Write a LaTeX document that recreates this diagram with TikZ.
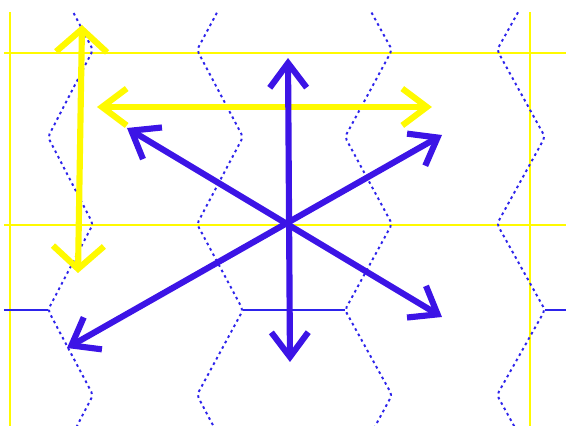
\documentclass[tikz,border=0pt]{standalone}
\usepackage{xcolor}
\usepackage{tikz}
\usetikzlibrary{arrows.meta}
\definecolor{guideyellow}{RGB}{255,250,0}
\definecolor{cellblue}{RGB}{45,35,235}
\definecolor{axisblue}{RGB}{60,20,230}
\tikzset{
  guide/.style={draw=guideyellow, line width=1.3pt},
  cellwall/.style={draw=cellblue, line width=1.1pt, dash pattern=on 1.5pt off 2pt, rounded corners=2pt},
  celledge/.style={draw=cellblue, line width=1pt},
  tipbig/.tip={Straight Barb[length=13pt, width=29pt]},
  tipmid/.tip={Straight Barb[length=14pt, width=21pt]}
}

\begin{document}
\begin{tikzpicture}[x=0.02cm, y=-0.02cm,
    yarrow/.style={draw=guideyellow, line width=3.5pt, line cap=round},
    barrow/.style={draw=axisblue, line width=3.5pt, line cap=round, {tipmid}-{tipmid}}
  ]
    \path[use as bounding box] (0,0) rectangle (566,426);

    % yellow guide lines
    \draw[guide] (10,12) -- (10,426);
    \draw[guide] (530,12) -- (530,426);
    \draw[guide] (4,53) -- (566,53);
    \draw[guide] (4,225) -- (566,225);

    % zigzag cell walls
    \begin{scope}
      \clip (4,12) rectangle (566,426);
      \foreach \l/\r in {48/93, 345/392}
        \draw[cellwall] (\l,-36) -- (\r,50) -- (\l,137) -- (\r,224) -- (\l,310) -- (\r,395) -- (\l,482);
      \foreach \l/\r in {197/243, 497/545}
        \draw[cellwall] (\r,-36) -- (\l,50) -- (\r,137) -- (\l,224) -- (\r,310) -- (\l,395) -- (\r,482);
    \end{scope}
    \coordinate (w1) at (4,310);
    \coordinate (w2) at (48,310);
    \coordinate (m1) at (243,310);
    \coordinate (m2) at (345,310);
    \coordinate (e1) at (545,310);
    \coordinate (e2) at (566,310);
    \draw[celledge] (w1) -- (w2);
    \draw[celledge] (m1) -- (m2);
    \draw[celledge] (e1) -- (e2);

    % yellow arrows
    \coordinate (ytop) at (82,25);
    \coordinate (ybot) at (78,273);
    \coordinate (yleft) at (97,107);
    \coordinate (yright) at (432,107);
    \draw[yarrow, {tipbig}-{tipbig}] (ytop) -- (ybot);
    \draw[yarrow, {tipmid}-{tipmid}] (yleft) -- (yright);

    % blue arrows
    \coordinate (n) at (288,58);
    \coordinate (s) at (290,362);
    \coordinate (nw) at (127,128);
    \coordinate (se) at (442,317);
    \coordinate (ne) at (442,135);
    \coordinate (sw) at (67,348);
    \draw[barrow] (n) -- (s);
    \draw[barrow] (nw) -- (se);
    \draw[barrow] (ne) -- (sw);
  \end{tikzpicture}
\end{document}
